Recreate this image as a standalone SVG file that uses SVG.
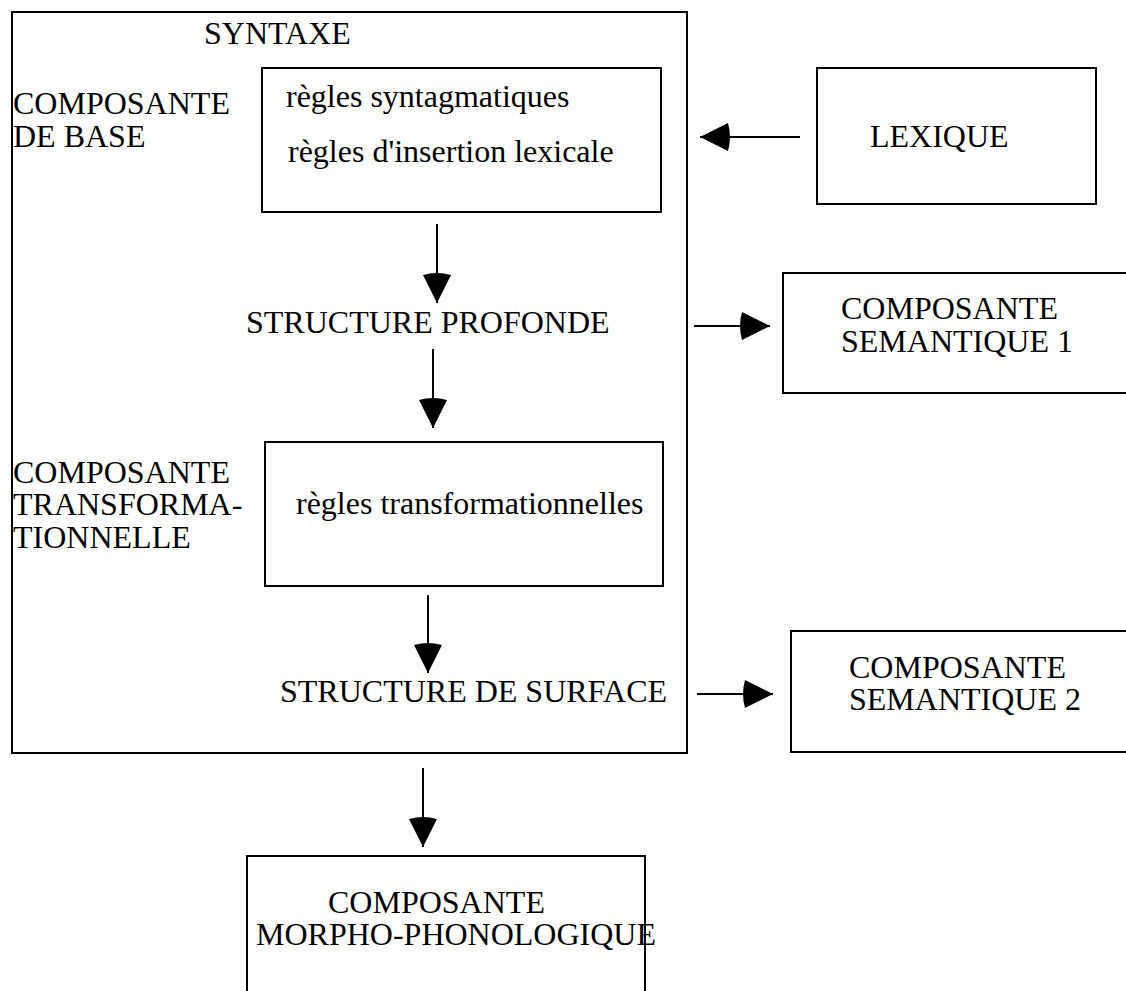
<svg xmlns="http://www.w3.org/2000/svg" width="1126" height="991" viewBox="0 0 1126 991">
  <style>
    .box { fill: none; stroke: #000; stroke-width: 2; }
    .t { font-family: 'Liberation Serif', Tinos, 'Times New Roman', Times, 'DejaVu Serif', serif; font-size: 32px; fill: #000; }
    .c { stroke: #000; stroke-width: 2; fill: none; marker-end: url(#ah); }
  </style>
  <defs>
    <marker id="ah" viewBox="0 0 32 28" markerWidth="32" markerHeight="28" refX="32" refY="14" markerUnits="userSpaceOnUse" orient="auto">
      <path d="M32,14 L4,0 Q0,14 4,28 Z" fill="#000"/>
    </marker>
  </defs>
  <rect width="1126" height="991" fill="#fff"/>

  <g font-family="Liberation Serif, Tinos, Times New Roman, DejaVu Serif, serif">
  <g id="syntaxe">
    <rect class="box" x="12" y="12" width="675" height="741"/>
    <text class="t" x="204" y="44">SYNTAXE</text>
  </g>

  <g id="composante-base">
    <text class="t" x="13" y="114">COMPOSANTE</text>
    <text class="t" x="13" y="147">DE BASE</text>
  </g>

  <g id="regles-base">
    <rect class="box" x="262" y="68" width="399" height="144"/>
    <text class="t" x="286" y="107">règles syntagmatiques</text>
    <text class="t" x="288" y="162">règles d'insertion lexicale</text>
  </g>

  <g id="lexique">
    <rect class="box" x="817" y="68" width="279" height="136"/>
    <text class="t" x="870" y="147">LEXIQUE</text>
  </g>

  <g id="structure-profonde">
    <text class="t" x="246" y="333">STRUCTURE PROFONDE</text>
  </g>

  <g id="semantique-1">
    <rect class="box" x="783" y="273" width="350" height="120"/>
    <text class="t" x="841" y="319">COMPOSANTE</text>
    <text class="t" x="841" y="352">SEMANTIQUE 1</text>
  </g>

  <g id="composante-transformationnelle">
    <text class="t" x="13" y="483">COMPOSANTE</text>
    <text class="t" x="13" y="515">TRANSFORMA-</text>
    <text class="t" x="13" y="548">TIONNELLE</text>
  </g>

  <g id="regles-transformationnelles">
    <rect class="box" x="265" y="442" width="398" height="144"/>
    <text class="t" x="296" y="514">règles transformationnelles</text>
  </g>

  <g id="structure-surface">
    <text class="t" x="280" y="702">STRUCTURE DE SURFACE</text>
  </g>

  <g id="semantique-2">
    <rect class="box" x="791" y="631" width="350" height="121"/>
    <text class="t" x="849" y="678">COMPOSANTE</text>
    <text class="t" x="849" y="710">SEMANTIQUE 2</text>
  </g>

  <g id="morpho-phonologique">
    <rect class="box" x="247" y="856" width="398" height="150"/>
    <text class="t" x="328" y="913">COMPOSANTE</text>
    <text class="t" x="256" y="945">MORPHO-PHONOLOGIQUE</text>
  </g>
  </g>

  <g id="connectors">
    <line class="c" x1="800" y1="137" x2="700" y2="137"/>
    <line class="c" x1="437" y1="224" x2="437" y2="303"/>
    <line class="c" x1="433" y1="349" x2="433" y2="428"/>
    <line class="c" x1="428" y1="595" x2="428" y2="673"/>
    <line class="c" x1="423" y1="768" x2="423" y2="847"/>
    <line class="c" x1="694" y1="326" x2="770" y2="326"/>
    <line class="c" x1="697" y1="694" x2="773" y2="694"/>
  </g>
</svg>
